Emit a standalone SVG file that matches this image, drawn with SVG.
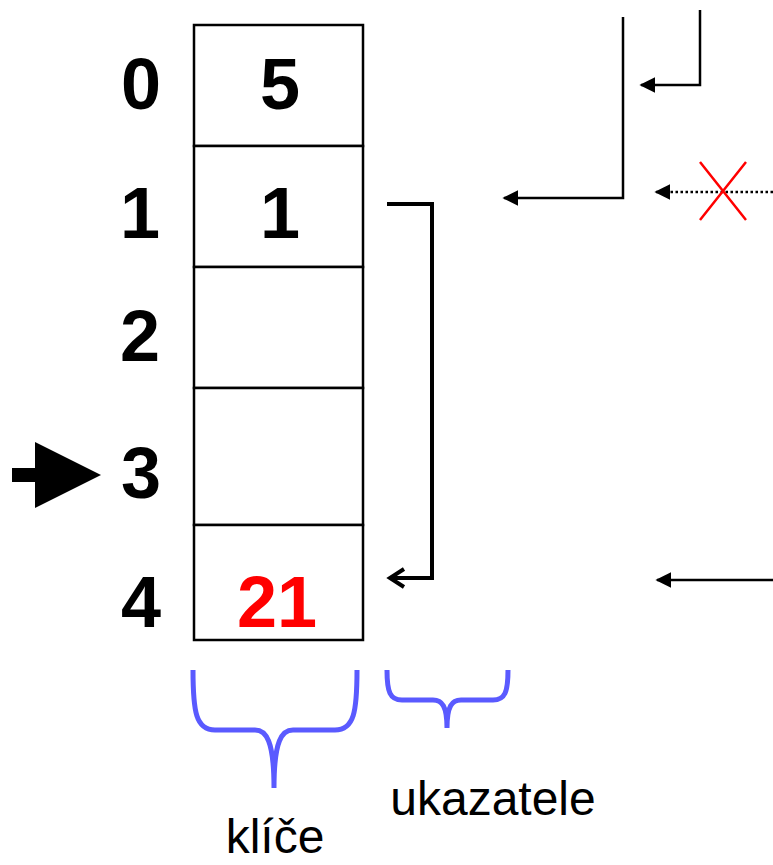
<svg xmlns="http://www.w3.org/2000/svg" width="773" height="865" viewBox="0 0 773 865">
<defs>
<style>
.num{font-family:"Liberation Sans",Arial,sans-serif;font-weight:bold;font-size:72px;text-anchor:middle;fill:#000}
.lbl{font-family:"Liberation Sans",Arial,sans-serif;font-size:48px;text-anchor:middle;fill:#000}
.cell{fill:#fff;stroke:#000;stroke-width:2.5}
.ln{fill:none;stroke:#000;stroke-width:2.5}
.brace{fill:none;stroke:#5a5aff;stroke-width:5;stroke-linecap:butt}
</style>
<marker id="tri" viewBox="0 0 10 10" refX="9" refY="5" markerWidth="6.4" markerHeight="6.4" markerUnits="strokeWidth" orient="auto">
<path d="M0,0 L10,5 L0,10 z" fill="#000"/>
</marker>
</defs>
<g id="table">
<rect class="cell" x="194" y="25" width="169" height="121"/>
<rect class="cell" x="194" y="146" width="169" height="121"/>
<rect class="cell" x="194" y="267" width="169" height="121"/>
<rect class="cell" x="194" y="388" width="169" height="137"/>
<rect class="cell" x="194" y="525" width="169" height="115"/>
<text class="num" x="280" y="109">5</text>
<text class="num" x="280" y="238">1</text>
<text class="num" x="277" y="627" style="fill:#ff0000">21</text>
</g>
<g id="indices">
<text class="num" x="141" y="109">0</text>
<text class="num" x="140" y="238">1</text>
<text class="num" x="140" y="361">2</text>
<text class="num" x="141" y="498">3</text>
<text class="num" x="141" y="627">4</text>
</g>
<g id="pointer-arrow">
<path d="M12,468 H35 V442 L101,475 L35,508 V482 H12 z" fill="#000"/>
</g>
<g id="connectors">
<path class="ln" d="M623,17 V198 H504" marker-end="url(#tri)"/>
<path class="ln" d="M700,10 V85 H641" marker-end="url(#tri)"/>
<path class="ln" d="M773,580 H657" marker-end="url(#tri)"/>
<path d="M773,192 H656" fill="none" stroke="#000" stroke-width="2.5" stroke-dasharray="2.5,2.5" marker-end="url(#tri)"/>
<path d="M387,204 H432 V578 H392" fill="none" stroke="#000" stroke-width="4" stroke-linejoin="miter"/>
<path d="M404,569 L390,578 L404,587" fill="none" stroke="#000" stroke-width="4"/>
</g>
<g id="cross">
<path d="M700,162 L746,220 M746,162 L700,220" stroke="#ff0000" stroke-width="2.5" fill="none"/>
</g>
<g id="brace-keys">
<path class="brace" d="M193,670 C193,712 196,730 215,730 H255 C266,730 274,740 274,788 C274,740 282,730 293,730 H335 C354,730 357,712 357,670"/>
<text class="lbl" x="275" y="853">klíče</text>
</g>
<g id="brace-pointers">
<path class="brace" d="M387,670 C387,692 390,700 402,700 H433 C442,700 447,706 447,728 C447,706 452,700 461,700 H493 C505,700 508,692 508,670"/>
<text class="lbl" x="493" y="815">ukazatele</text>
</g>
</svg>
